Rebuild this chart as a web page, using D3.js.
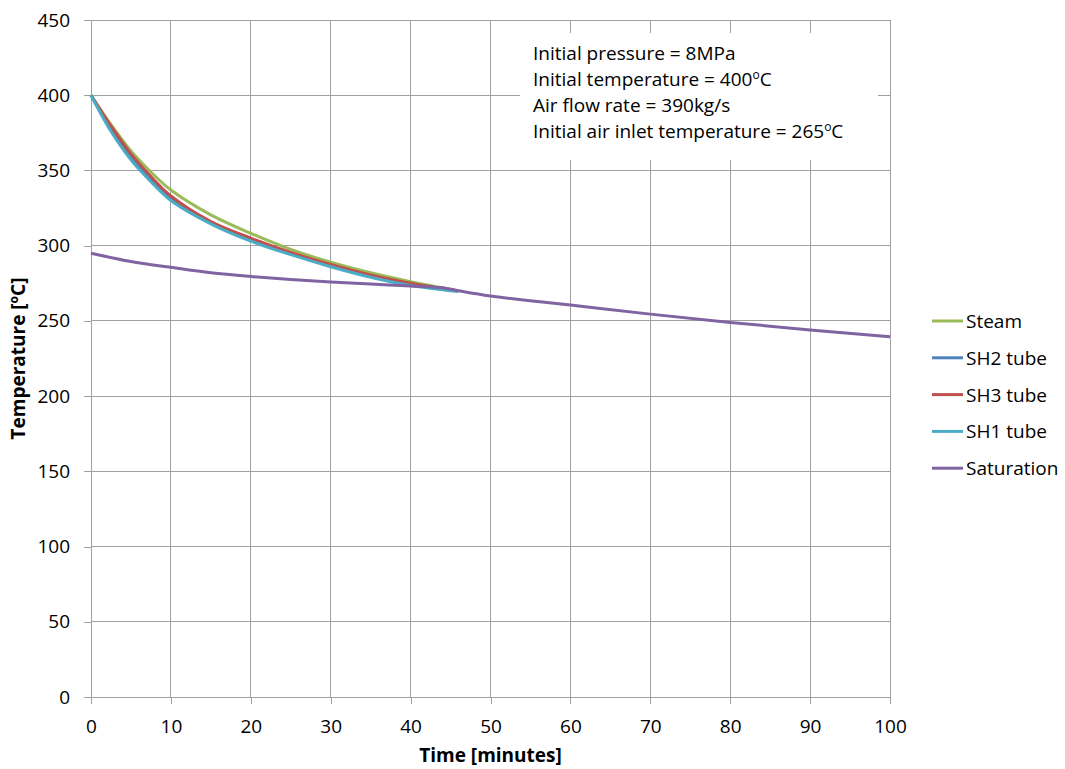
<!DOCTYPE html>
<html><head><meta charset="utf-8">
<script src="https://cdn.jsdelivr.net/npm/d3@7"></script>
<style>body{margin:0;background:#fff}svg{display:block}text{font-family:"Open Sans",sans-serif;fill:#000}</style>
</head><body><svg id="c" width="1065" height="769"></svg>
<script>
// Data (time in minutes, temperature in °C)
const steamT = [0,2.5,5,7.5,10,15,20,25,30,35,40,45.5];
const steamV = [400,380.5,363,349,337,320.5,308.2,297.5,289,282,276.1,270.5];
const sh2T = [0,2.5,5,7.5,10,15,20,25,30,35,40,45.5];
const sh2V = [400,377.5,359,344,331.5,315,304,294.8,286.8,279.8,274.2,270];
const sh3T = [0,2.5,5,7.5,10,15,20,25,30,35,40,45.5];
const sh3V = [400,379.5,361,346,333,316,305,295.5,287.5,280.5,275,270.3];
const sh1T = [0,2.5,5,7.5,10,15,20,25,30,35,40,46];
const sh1V = [400,376,357,342.5,330,314.5,303,294,286,279,273.5,269.5];
const satT = [0,5,10,15,20,25,30,35,40,44,46,50,60,70,80,90,100];
const satV = [295,289.5,285.6,282,279.5,277.5,275.8,274.5,273.2,272,270,266.5,260.5,254.5,249,244,239.5];

const seriesNames = ["Steam","SH2 tube","SH3 tube","SH1 tube","Saturation"];
const seriesColors = ["#9BBB59","#4F81BD","#C0504D","#4BACC6","#8064A2"];
const seriesT = [steamT, sh2T, sh3T, sh1T, satT];
const seriesV = [steamV, sh2V, sh3V, sh1V, satV];
const xTicks = [0,10,20,30,40,50,60,70,80,90,100];
const yTicks = [0,50,100,150,200,250,300,350,400,450];
const notes = [["Initial pressure = 8MPa",""],["Initial temperature = 400","o","C"],["Air flow rate = 390kg/s",""],["Initial air inlet temperature = 265","o","C"]];

const svg = d3.select("#c");
const L=91,R=890,T=20,B=697;
const x = d3.scaleLinear().domain([0,100]).range([L,R]);
const y = d3.scaleLinear().domain([0,450]).range([B,T]);
const gridC = "#a0a0a0";
const FS = "19px";

// gridlines
svg.append("g").selectAll("line.v").data(xTicks.slice(1)).join("line")
  .attr("x1",d=>x(d)).attr("x2",d=>x(d)).attr("y1",T).attr("y2",B)
  .attr("stroke",gridC).attr("stroke-width",1).attr("shape-rendering","crispEdges");
svg.append("g").selectAll("line.h").data(yTicks.slice(1)).join("line")
  .attr("x1",L).attr("x2",R).attr("y1",d=>y(d)).attr("y2",d=>y(d))
  .attr("stroke",gridC).attr("stroke-width",1).attr("shape-rendering","crispEdges");

// axes
const xa = svg.append("g").attr("transform",`translate(0,${B})`)
  .call(d3.axisBottom(x).tickValues(xTicks).tickSize(7).tickPadding(16));
const ya = svg.append("g").attr("transform",`translate(${L},0)`)
  .call(d3.axisLeft(y).tickValues(yTicks).tickSize(7).tickPadding(14));
[xa,ya].forEach(a=>{
  a.selectAll("path,line").attr("stroke",gridC).attr("shape-rendering","crispEdges");
  a.selectAll("text").style("font-family","'Open Sans',sans-serif").style("font-size",FS).attr("fill","#000");
});
xa.select(".domain").attr("d",`M${L},0.5H${R}`);
ya.select(".domain").attr("d",`M0.5,${T}V${B}`);

// annotation box
svg.append("rect").attr("x",520).attr("y",33).attr("width",358).attr("height",127).attr("fill","#fff");
const nt = svg.append("g");
notes.forEach((n,i)=>{
  const t = nt.append("text").attr("x",533).attr("y",60+i*26).style("font-size",FS);
  t.append("tspan").text(n[0]);
  if(n[1]){
    t.append("tspan").attr("dy",-7).style("font-size","12px").text(n[1]);
    t.append("tspan").attr("dy",7).text(n[2]);
  }
});

// lines
const line = d3.line().x(d=>x(d[0])).y(d=>y(d[1])).curve(d3.curveCatmullRom.alpha(0.5));
seriesNames.forEach((nm,i)=>{
  const pts = seriesT[i].map((t,j)=>[t,seriesV[i][j]]);
  svg.append("path").datum(pts).attr("d",line).attr("fill","none")
    .attr("stroke",seriesColors[i]).attr("stroke-width",3).attr("stroke-linejoin","round");
});

// legend
const lg = svg.append("g");
seriesNames.forEach((nm,i)=>{
  const yy = 321 + i*36.8;
  lg.append("line").attr("x1",932).attr("x2",963).attr("y1",yy).attr("y2",yy)
    .attr("stroke",seriesColors[i]).attr("stroke-width",3);
  lg.append("text").attr("x",966).attr("y",yy+7).style("font-size",FS).text(nm);
});

// axis titles
svg.append("text").attr("x",(L+R)/2).attr("y",762).attr("text-anchor","middle")
  .style("font-size",FS).style("font-weight","bold").text("Time [minutes]");
const yt = svg.append("text").attr("transform",`translate(25,${(T+B)/2}) rotate(-90)`)
  .attr("text-anchor","middle").style("font-size",FS).style("font-weight","bold");
yt.append("tspan").text("Temperature [");
yt.append("tspan").attr("dy",-7).style("font-size","12px").text("o");
yt.append("tspan").attr("dy",7).text("C]");
</script></body></html>
